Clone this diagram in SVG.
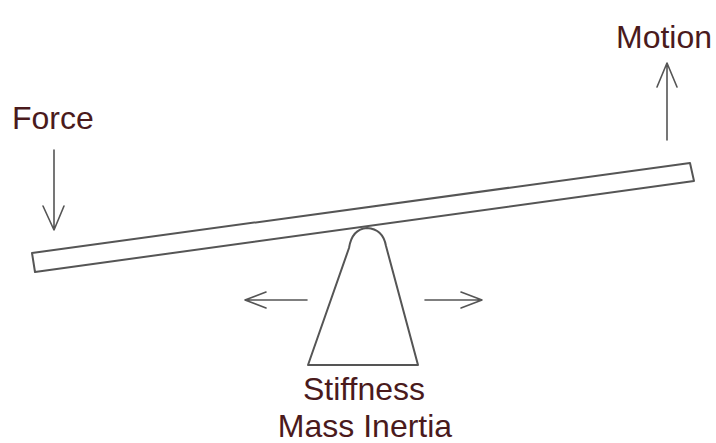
<svg xmlns="http://www.w3.org/2000/svg" width="716" height="443" viewBox="0 0 716 443">
<style>
.ln{fill:none;stroke:#555;stroke-width:1.6;stroke-linejoin:round;stroke-linecap:round}
.sh{fill:#fff;stroke:#555;stroke-width:2;stroke-linejoin:round}
.tx{font-family:"Liberation Sans",Arial,sans-serif;font-size:32px;fill:#4a1a1c}
</style>
<rect width="716" height="443" fill="#fff"/>
<g id="fulcrum">
<path class="sh" d="M308,365 L349,248 Q352,229 367,228 Q383,229 386,246 L418,365 Z"/>
</g>
<g id="beam">
<path class="sh" d="M32,253 L690,163 L694,181 L35,272 Z"/>
</g>
<g id="connectors">
<path class="ln" d="M54,150 L54,230 M43,206 L54,230 L64,206"/>
<path class="ln" d="M667,140 L667,63 M657,87 L667,63 L677,87"/>
<path class="ln" d="M307,300 L245,300 M266,292 L245,300 L266,308"/>
<path class="ln" d="M425,300 L482,300 M461,292 L482,300 L461,308"/>
</g>
<g id="force"><text class="tx" x="12" y="129">Force</text></g>
<g id="motion"><text class="tx" x="616" y="48">Motion</text></g>
<g id="stiffness"><text class="tx" x="364" y="400" text-anchor="middle">Stiffness</text>
<text class="tx" x="365" y="437" text-anchor="middle">Mass Inertia</text></g>
</svg>
